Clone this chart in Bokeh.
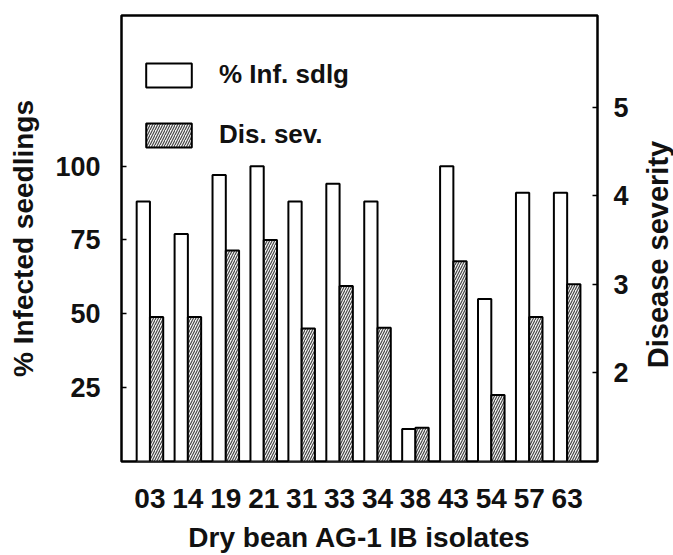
import math
from bokeh.plotting import figure
from bokeh.layouts import row
from bokeh.models import (Range1d, LinearAxis, FixedTicker, Legend, LegendItem,
                          Label, ColumnDataSource)
from bokeh.transform import dodge
from bokeh.embed import file_html
from bokeh.resources import INLINE

# ---- data ----
isolates = ["03", "14", "19", "21", "31", "33", "34", "38", "43", "54", "57", "63"]
pct_infected = [88, 77, 97, 100, 88, 94, 88, 11, 100, 55, 91, 91]
disease_severity = [2.63, 2.63, 3.38, 3.50, 2.50, 2.98, 2.51, 1.38, 3.26, 1.75, 2.63, 3.00]
left_ticks = [25, 50, 75, 100]
right_ticks = [2, 3, 4, 5]

FONT = "Liberation Sans"
TXT = "#111111"
x = list(range(len(isolates)))
src = ColumnDataSource(dict(x=x, pct=pct_infected, sev=disease_severity))

p = figure(width=633, height=555, output_backend="svg", toolbar_location=None,
           x_range=Range1d(-0.75, 11.8), y_range=Range1d(0, 151),
           min_border_left=121, min_border_right=36, min_border_top=15,
           min_border_bottom=94)
p.extra_y_ranges = {"sev": Range1d(1, 1 + 151 / 30)}

p.xgrid.visible = False
p.ygrid.visible = False
p.outline_line_color = "black"
p.outline_line_width = 2.5
p.background_fill_color = "white"
p.border_fill_color = "white"

r1 = p.vbar(x=dodge("x", -0.175, range=p.x_range), top="pct", bottom=0, width=0.35,
            source=src, fill_color="white", line_color="black", line_width=2)
r2 = p.vbar(x=dodge("x", 0.175, range=p.x_range), top="sev", bottom=1, width=0.35,
            source=src, y_range_name="sev", fill_color="#f2f2f2", line_color="black",
            line_width=2, hatch_pattern="/", hatch_color="#404040", hatch_scale=5,
            hatch_weight=1.1)

# x axis
xa = p.xaxis[0]
xa.ticker = FixedTicker(ticks=x)
xa.major_label_overrides = {i: lab for i, lab in zip(x, isolates)}
xa.major_tick_line_color = None
xa.minor_tick_line_color = None
xa.axis_line_color = None
xa.major_label_text_font = FONT
xa.major_label_text_font_style = "bold"
xa.major_label_text_font_size = "28px"
xa.major_label_text_color = TXT
xa.major_label_standoff = 21
xa.axis_label = "Dry bean AG-1 IB isolates"
xa.axis_label_text_font = FONT
xa.axis_label_text_font_style = "bold"
xa.axis_label_text_font_size = "28px"
xa.axis_label_text_color = TXT
xa.axis_label_standoff = 11

# left axis
ya = p.yaxis[0]
ya.ticker = FixedTicker(ticks=left_ticks)
ya.major_tick_in = 5
ya.major_tick_out = 0
ya.major_tick_line_width = 1.5
ya.minor_tick_line_color = None
ya.axis_line_color = None
ya.major_label_text_font = FONT
ya.major_label_text_font_style = "bold"
ya.major_label_text_font_size = "27px"
ya.major_label_text_color = TXT
ya.major_label_standoff = 21
ya.axis_label = "% Infected seedlings"
ya.axis_label_text_font = FONT
ya.axis_label_text_font_style = "bold"
ya.axis_label_text_font_size = "28px"
ya.axis_label_text_color = TXT
ya.axis_label_standoff = 13

# right axis (its title is drawn in the narrow strip beside the plot)
ra = LinearAxis(y_range_name="sev", ticker=FixedTicker(ticks=right_ticks))
ra.major_tick_in = 5
ra.major_tick_out = 0
ra.major_tick_line_width = 1.5
ra.minor_tick_line_color = None
ra.axis_line_color = None
ra.major_label_text_font = FONT
ra.major_label_text_font_style = "bold"
ra.major_label_text_font_size = "27px"
ra.major_label_text_color = TXT
ra.major_label_standoff = 16
p.add_layout(ra, "right")

legend = Legend(items=[LegendItem(label="% Inf. sdlg", renderers=[r1]),
                       LegendItem(label="Dis. sev.", renderers=[r2])],
                location=(19, 311), glyph_width=57, glyph_height=30, spacing=29,
                label_standoff=22, padding=0, margin=0, border_line_color=None,
                background_fill_alpha=0, label_text_font=FONT,
                label_text_font_style="bold", label_text_font_size="26px",
                label_text_color=TXT, label_height=30)
p.add_layout(legend)

# narrow strip holding the right-axis title, read bottom to top;
# its frame has the same vertical extent as the main plot's frame (446 px)
strip = figure(width=40, height=555, output_backend="svg", toolbar_location=None,
               x_range=Range1d(0, 40), y_range=Range1d(0, 446),
               min_border_left=0, min_border_right=0, min_border_top=15,
               min_border_bottom=94, x_axis_type=None, y_axis_type=None)
strip.outline_line_color = None
strip.xgrid.visible = False
strip.ygrid.visible = False
strip.add_layout(Label(x=24, y=207, text="Disease severity", angle=math.pi / 2,
                       text_align="center", text_baseline="middle",
                       text_font=FONT, text_font_style="bold",
                       text_font_size="29px", text_color=TXT))

layout = row(p, strip, spacing=0)
open("out.html", "w").write(file_html(layout, INLINE))
